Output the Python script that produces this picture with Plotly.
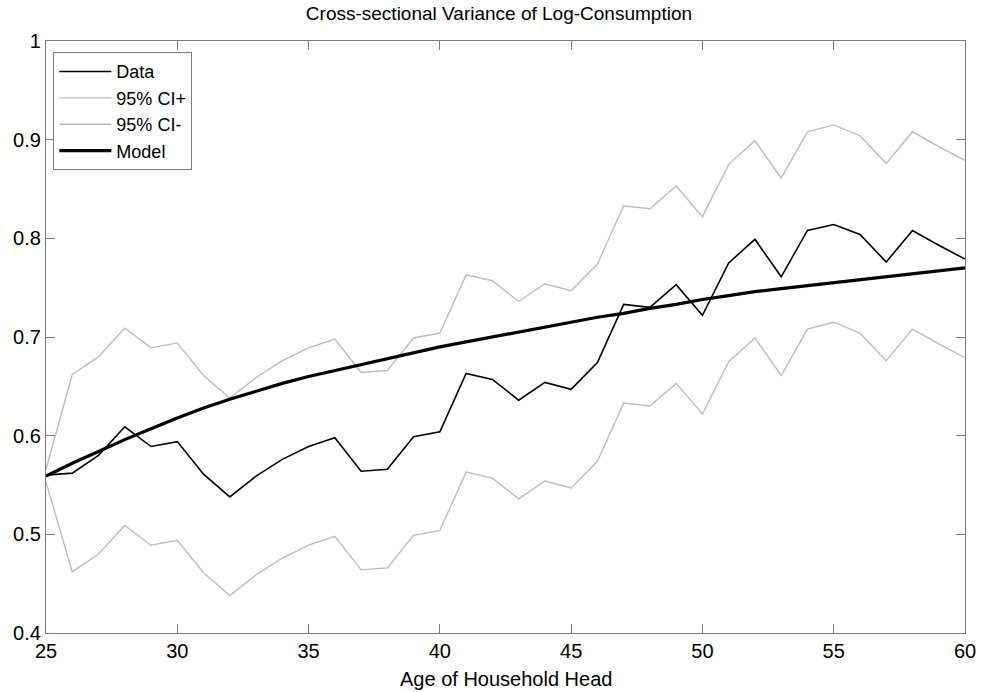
import plotly.graph_objects as go

ages = list(range(25, 61))

data = [0.560, 0.562, 0.580, 0.609, 0.589, 0.594, 0.561, 0.538, 0.559, 0.576,
        0.589, 0.598, 0.564, 0.566, 0.599, 0.604, 0.663, 0.657, 0.636, 0.654,
        0.647, 0.674, 0.733, 0.730, 0.753, 0.722, 0.775, 0.799, 0.761, 0.808,
        0.814, 0.804, 0.776, 0.808, 0.793, 0.779]

ci_plus = [0.566, 0.662, 0.680, 0.709, 0.689, 0.694, 0.661, 0.638, 0.659, 0.676,
           0.689, 0.698, 0.664, 0.666, 0.699, 0.704, 0.763, 0.757, 0.736, 0.754,
           0.747, 0.774, 0.833, 0.830, 0.853, 0.822, 0.875, 0.899, 0.861, 0.908,
           0.915, 0.904, 0.876, 0.908, 0.893, 0.879]

ci_minus = [0.553, 0.462, 0.480, 0.509, 0.489, 0.494, 0.461, 0.438, 0.459, 0.476,
            0.489, 0.498, 0.464, 0.466, 0.499, 0.504, 0.563, 0.557, 0.536, 0.554,
            0.547, 0.574, 0.633, 0.630, 0.653, 0.622, 0.675, 0.699, 0.661, 0.708,
            0.715, 0.704, 0.676, 0.708, 0.693, 0.679]

model = [0.559, 0.572, 0.584, 0.596, 0.607, 0.618, 0.628, 0.637, 0.645, 0.653,
         0.660, 0.666, 0.672, 0.678, 0.684, 0.690, 0.695, 0.700, 0.705, 0.710,
         0.715, 0.720, 0.724, 0.729, 0.733, 0.738, 0.742, 0.746, 0.749, 0.752,
         0.755, 0.758, 0.761, 0.764, 0.767, 0.770]

x_ticks = [25, 30, 35, 40, 45, 50, 55, 60]
y_ticks = [0.4, 0.5, 0.6, 0.7, 0.8, 0.9, 1.0]
y_tick_labels = ["0.4", "0.5", "0.6", "0.7", "0.8", "0.9", "1"]

FONT = "Liberation Sans, Arial, Helvetica, sans-serif"
FS = 20
GRAY = "#bdbdbd"

fig = go.Figure()
fig.add_trace(go.Scatter(x=ages, y=data, mode="lines", name="Data",
                         line=dict(color="black", width=1.6)))
fig.add_trace(go.Scatter(x=ages, y=ci_plus, mode="lines", name="95% CI+",
                         line=dict(color=GRAY, width=1.4)))
fig.add_trace(go.Scatter(x=ages, y=ci_minus, mode="lines", name="95% CI-",
                         line=dict(color=GRAY, width=1.4)))
fig.add_trace(go.Scatter(x=ages, y=model, mode="lines", name="Model",
                         line=dict(color="black", width=3.2)))

axis_common = dict(showgrid=False, zeroline=False, showline=True, linecolor="#7a7a7a",
                   linewidth=1.2, mirror="ticks", ticks="inside", ticklen=9,
                   tickcolor="#7a7a7a", tickwidth=1,
                   tickfont=dict(family=FONT, size=FS, color="black"))

fig.update_xaxes(range=[25, 60], tickvals=x_ticks, ticktext=[str(v) for v in x_ticks],
                 **axis_common)
fig.update_yaxes(range=[0.4, 1.0], tickvals=y_ticks, ticktext=y_tick_labels, **axis_common)

fig.add_annotation(text="Age of Household Head", xref="paper", yref="paper",
                   x=0.5, y=-0.077, xanchor="center", yanchor="middle", showarrow=False,
                   font=dict(family=FONT, size=FS, color="black"))

fig.update_layout(
    width=988, height=692,
    margin=dict(l=46, r=12, t=41, b=59),
    paper_bgcolor="white", plot_bgcolor="white",
    title=dict(text="Cross-sectional Variance of Log-Consumption",
               font=dict(family=FONT, size=19, color="black"),
               x=0.505, xanchor="center", y=0.98, yanchor="middle"),
    legend=dict(x=0.008, y=0.981, xanchor="left", yanchor="top",
                bgcolor="white", bordercolor="#7a7a7a", borderwidth=1,
                font=dict(family=FONT, size=18, color="black"),
                itemwidth=52, tracegroupgap=0),
    showlegend=True,
)

fig.write_html("out.html")
